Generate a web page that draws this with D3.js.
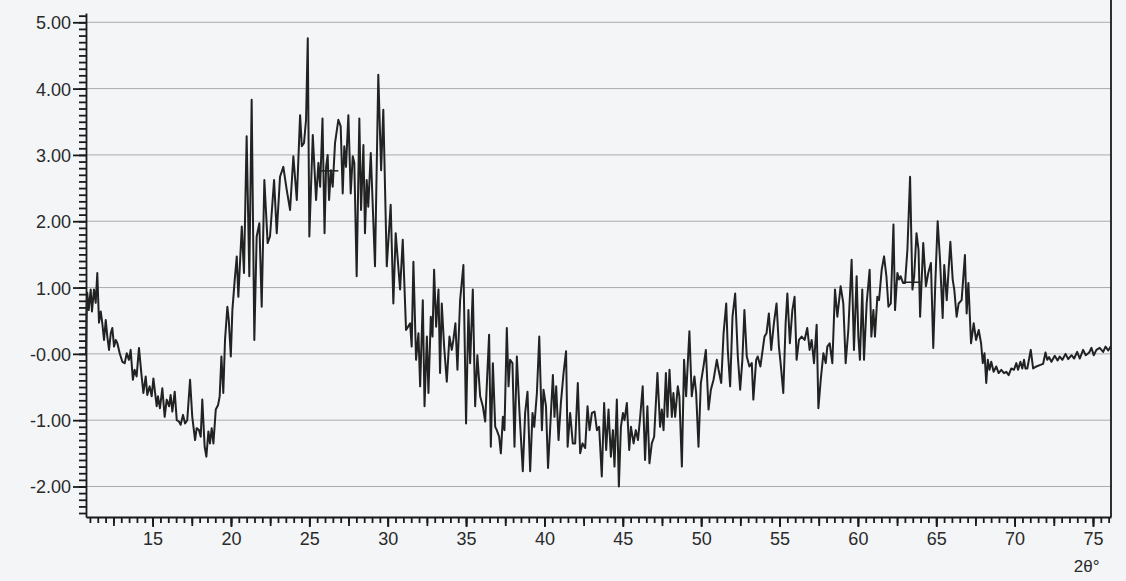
<!DOCTYPE html>
<html lang="en">
<head>
    <meta charset="UTF-8">
    <title>XRD scan</title>
    <script src="https://d3js.org/d3.v7.min.js"></script>
    <style>
        body { margin: 0; background: #f3f5f7; }
        svg { display: block; }
        .grid line { stroke: #a9abad; stroke-width: 1px; }
        .axis path, .axis line { stroke: #1a1a1a; stroke-width: 1.8px; }
        .axis text { font: 18px "Liberation Sans", Arial, sans-serif; fill: #2a2a2a; }
        .scan { fill: none; stroke: #222; stroke-width: 2px; stroke-linejoin: round; }
        .mark { stroke: #222; stroke-width: 1.5px; }
    </style>
</head>
<body>
    <svg width="1126" height="581"></svg>

    <script>
        // Data (2theta in degrees, intensity)
        const twoTheta = [
            10.75, 10.80, 10.83, 10.92, 11.05, 11.13, 11.26, 11.37, 11.47, 11.58,
            11.69, 11.79, 11.90, 12.01, 12.11, 12.22, 12.33, 12.43, 12.54, 12.65,
            12.75, 12.90, 13.07, 13.22, 13.35, 13.49, 13.60, 13.74, 13.85, 13.98,
            14.13, 14.28, 14.41, 14.56, 14.66, 14.81, 14.94, 15.05, 15.26, 15.34,
            15.47, 15.62, 15.77, 15.90, 16.05, 16.15, 16.26, 16.41, 16.54, 16.68,
            16.79, 16.94, 17.07, 17.21, 17.39, 17.53, 17.71, 17.81, 17.96, 18.07,
            18.17, 18.32, 18.43, 18.56, 18.66, 18.77, 18.88, 19.03, 19.18, 19.28,
            19.39, 19.51, 19.62, 19.77, 19.86, 19.99, 20.09, 20.24, 20.37, 20.47,
            20.69, 20.83, 21.00, 21.17, 21.32, 21.49, 21.64, 21.81, 21.96, 22.13,
            22.34, 22.49, 22.75, 22.92, 23.13, 23.34, 23.56, 23.77, 23.98, 24.20,
            24.41, 24.52, 24.66, 24.79, 24.90, 25.00, 25.22, 25.43, 25.58, 25.69,
            25.84, 25.97, 26.07, 26.17, 26.26, 26.38, 26.49, 26.64, 26.85, 27.00,
            27.13, 27.23, 27.34, 27.49, 27.64, 27.77, 27.87, 28.02, 28.19, 28.30,
            28.45, 28.55, 28.66, 28.76, 28.92, 29.19, 29.40, 29.58, 29.72, 29.94,
            30.19, 30.36, 30.51, 30.79, 30.96, 31.17, 31.43, 31.53,
            31.64, 31.81, 31.96, 32.07, 32.24, 32.35, 32.50, 32.60, 32.75, 32.86,
            32.96, 33.09, 33.24, 33.34, 33.45, 33.60, 33.77, 33.94, 34.09, 34.19,
            34.32, 34.45, 34.62, 34.83, 35.00, 35.15, 35.26, 35.43, 35.58, 35.72,
            35.90, 36.07, 36.22, 36.32, 36.47, 36.58, 36.71, 36.86, 36.96, 37.11,
            37.22, 37.35, 37.45, 37.60, 37.71, 37.81, 37.96, 38.09, 38.24, 38.41,
            38.62, 38.77, 38.92, 39.09, 39.24, 39.35, 39.52, 39.67, 39.84, 39.94,
            40.10, 40.23, 40.36, 40.54, 40.64, 40.75, 40.90, 41.05, 41.22, 41.38,
            41.48, 41.64, 41.81, 41.96, 42.13, 42.28, 42.43, 42.60, 42.75, 42.88,
            43.03, 43.20, 43.35, 43.49, 43.66, 43.81, 43.94, 44.09, 44.24, 44.37,
            44.47, 44.62, 44.75, 44.88, 45.01, 45.11, 45.26, 45.41, 45.52, 45.69,
            45.83, 45.97, 46.11,
            46.27, 46.42, 46.57, 46.70, 46.85, 47.00, 47.21, 47.38, 47.49, 47.60,
            47.75, 47.85, 47.98, 48.13, 48.23, 48.34, 48.51, 48.61, 48.77, 48.91,
            49.04, 49.25, 49.40, 49.57, 49.68, 49.83, 49.98, 50.15, 50.30, 50.47,
            50.62, 50.79, 51.00, 51.11, 51.28, 51.43, 51.60, 51.70, 51.85, 52.00,
            52.17, 52.34, 52.49, 52.63, 52.76, 52.91, 53.08, 53.23, 53.33, 53.51,
            53.61, 53.78, 54.04, 54.17, 54.32, 54.47, 54.64, 54.81, 54.96, 55.07,
            55.24, 55.39, 55.50, 55.66, 55.82, 55.96, 56.09, 56.24, 56.41, 56.60,
            56.77, 56.92, 57.05, 57.20, 57.37, 57.48, 57.63, 57.80, 57.95, 58.05,
            58.20, 58.37, 58.54, 58.69, 58.90, 59.07, 59.22, 59.39, 59.60, 59.75,
            59.92, 60.03, 60.13, 60.28, 60.39, 60.56, 60.75, 60.86, 60.99, 61.09,
            61.24, 61.35, 61.52, 61.67, 61.82, 61.95, 62.10, 62.27, 62.37, 62.52,
            62.63, 62.73, 62.88, 63.01, 63.16, 63.33, 63.48, 63.59, 63.74, 63.87,
            63.97, 64.17, 64.34, 64.49, 64.66, 64.81, 64.94, 65.09, 65.24, 65.41,
            65.51, 65.67, 65.90, 66.05, 66.15, 66.30, 66.43, 66.62, 66.83, 66.94,
            67.05, 67.22, 67.39, 67.54, 67.71, 67.86,
            67.97, 68.08, 68.19, 68.29, 68.40, 68.51, 68.66, 68.83, 68.98, 69.15,
            69.32, 69.47, 69.62, 69.79, 69.96, 70.11, 70.22, 70.37, 70.49, 70.60,
            70.69, 70.81, 71.03, 71.18, 71.39, 71.60, 71.82, 71.97, 72.08, 72.20,
            72.35, 72.56, 72.74, 72.88, 73.05, 73.25, 73.42, 73.63, 73.80, 73.99,
            74.16, 74.37, 74.54, 74.76, 74.90, 75.05, 75.22, 75.43, 75.65, 75.80,
            75.97, 76.13
        ];
        const intensity = [
            -0.02, 0.80, 0.92, 0.66, 0.97, 0.64, 0.97, 0.77, 1.22, 0.47,
            0.64, 0.46, 0.21, 0.51, 0.26, 0.06, 0.31, 0.39, 0.11, 0.21,
            0.16, 0.01, -0.12, -0.14, 0.01, -0.09, 0.06, -0.39, -0.24, -0.34,
            0.09, -0.29, -0.59, -0.34, -0.62, -0.49, -0.64, -0.37, -0.79, -0.64,
            -0.82, -0.52, -0.95, -0.69, -0.79, -0.62, -0.87, -0.57, -1.00, -1.02,
            -1.07, -0.92, -1.05, -1.00, -0.39, -0.95, -1.30, -1.12, -1.15, -1.25,
            -0.69, -1.40, -1.55, -1.17, -1.35, -1.12, -1.35, -0.84, -0.77, -0.64,
            -0.04, -0.59, 0.21, 0.71, 0.51, -0.04, 0.66, 1.12, 1.47, 0.86,
            1.92, 1.22, 3.28, 1.17, 3.83, 0.21, 1.77, 1.97, 0.71, 2.62,
            1.67, 1.77, 2.62, 1.82, 2.67, 2.82, 2.47, 2.17, 2.98, 2.32,
            3.60, 3.13, 3.18, 3.53, 4.76, 1.77, 3.30, 2.32, 2.88, 2.52,
            3.55, 1.82, 2.82, 3.00, 2.32, 2.77, 2.52, 3.18, 3.53, 3.43,
            2.42, 3.13, 2.82, 3.60, 2.42, 2.98, 2.88, 1.17, 3.55, 2.17,
            3.15, 1.82, 2.62, 2.22, 3.03, 1.32, 4.21, 2.77, 3.68, 1.32,
            2.25, 0.76, 1.82, 0.97, 1.72, 0.36, 0.46, 0.11,
            1.39, -0.09, 0.31, -0.49, 0.81, -0.79, 0.26, -0.59, 0.56, 0.26,
            1.27, 0.41, 0.97, -0.29, 0.76, 0.11, -0.42, 0.26, 0.06, 0.21,
            0.46, -0.24, 0.81, 1.34, -1.05, 0.66, -0.14, 0.97, -0.79, -0.02,
            -0.64, -0.79, -1.02, -0.49, 0.29, -1.40, -0.14, -1.10, -1.15, -1.25,
            -1.50, -0.95, -1.15, 0.39, -0.49, -0.09, -0.14, -1.40, -0.04, -0.89,
            -1.77, -0.89, -0.57, -1.77, -0.89, -1.10, -0.59, 0.26, -1.15, -0.54,
            -0.79, -1.72, -1.15, -0.32, -0.95, -0.49, -1.30, -0.74, -0.29, 0.04,
            -1.40, -0.89, -1.35, -1.35, -0.44, -1.50, -1.35, -1.42, -0.79, -1.15,
            -0.89, -0.87, -1.15, -1.10, -1.85, -0.74, -1.45, -0.84, -1.55, -1.15,
            -1.70, -0.69, -2.00, -1.10, -0.89, -1.00, -0.74, -1.45, -1.10, -1.35,
            -1.15, -1.30, -0.95,
            -0.49, -1.60, -0.79, -1.65, -1.35, -1.25, -0.29, -1.10, -0.84, -1.15,
            -0.29, -0.95, -0.24, -0.95, -0.59, -0.95, -0.49, -0.64, -1.70, -0.09,
            -0.64, 0.34, -0.64, -0.34, -0.59, -1.40, -0.44, -0.19, 0.06, -0.84,
            -0.54, -0.39, -0.09, -0.24, -0.44, 0.31, 0.76, 0.06, -0.49, 0.56,
            0.91, -0.04, -0.54, -0.09, 0.66, -0.04, -0.19, -0.14, -0.69, -0.09,
            -0.04, -0.19, 0.26, 0.31, 0.61, 0.06, 0.46, 0.76, 0.11, -0.14,
            -0.59, 0.46, 0.91, 0.16, 0.66, 0.86, -0.09, 0.21, 0.26, 0.21,
            0.39, 0.06, 0.21, -0.14, 0.44, -0.82, -0.39, 0.01, -0.14, 0.11,
            0.16, -0.14, 0.97, 0.56, 1.02, 0.76, -0.14, 0.36, 1.42, 0.06,
            1.17, 0.26, -0.09, 0.97, -0.09, 0.76, 1.27, 0.26, 0.66, 0.26,
            0.86, 0.81, 1.27, 1.47, 1.17, 0.71, 0.76, 1.95, 0.66, 1.22,
            1.12, 1.17, 1.07, 1.07, 1.57, 2.67, 0.97, 1.17, 1.82, 1.57,
            0.56, 1.67, 1.02, 1.22, 1.37, 0.09, 1.07, 2.00, 1.42, 0.54,
            1.34, 0.81, 1.69, 1.12, 0.97, 0.56, 0.76, 0.81, 1.49, 0.61,
            1.07, 0.16, 0.46, 0.21, 0.36, 0.16,
            -0.14, 0.01, -0.44, -0.09, -0.24, -0.12, -0.27, -0.19, -0.29, -0.24,
            -0.29, -0.27, -0.32, -0.22, -0.24, -0.14, -0.24, -0.12, -0.22, -0.09,
            -0.22, -0.22, 0.06, -0.22, -0.19, -0.17, -0.15, 0.02, -0.09, -0.05,
            -0.12, -0.03, -0.10, -0.04, -0.09, 0.00, -0.08, -0.02, -0.07, 0.03,
            -0.07, 0.06, -0.02, 0.02, 0.09, -0.02, 0.06, 0.09, 0.03, 0.11,
            0.05, 0.11
        ];

        // short horizontal marks drawn on the trace: [from, to, level]
        const baselineMarks = [[25.70, 26.85, 2.76], [62.90, 64.00, 1.08]];

        const xTicks = [15, 20, 25, 30, 35, 40, 45, 50, 55, 60, 65, 70, 75];
        const yTicks = [-2, -1, 0, 1, 2, 3, 4, 5];
        const yTickLabels = ["-2.00", "-1.00", "-0.00", "1.00", "2.00", "3.00", "4.00", "5.00"];
        const xTitle = "2θ°";

        const svg = d3.select("svg");
        const plotLeft = 86, plotRight = 1111, plotTop = 13, plotBottom = 517;

        const x = d3.scaleLinear().domain([10.75, 76.15]).range([plotLeft, plotRight]);
        const y = d3.scaleLinear().domain([-2.46, 5.14]).range([plotBottom, plotTop]);

        // grid lines
        svg.append("g")
            .attr("class", "grid")
            .selectAll("line")
            .data(yTicks)
            .enter().append("line")
            .attr("x1", plotLeft)
            .attr("x2", plotRight)
            .attr("y1", d => y(d))
            .attr("y2", d => y(d));

        // minor ticks
        const yMinor = d3.range(-24, 52).map(d => d / 10);
        svg.append("g")
            .attr("class", "axis")
            .attr("transform", "translate(" + plotLeft + ",0)")
            .call(d3.axisLeft(y).tickValues(yMinor).tickSize(7).tickFormat(""))
            .call(g => g.select(".domain").remove());

        const xMinor = d3.range(22, 153).map(d => d / 2);
        svg.append("g")
            .attr("class", "axis")
            .attr("transform", "translate(0," + plotBottom + ")")
            .call(d3.axisBottom(x).tickValues(xMinor).tickSize(6).tickFormat(""))
            .call(g => g.select(".domain").remove());

        const xMid = d3.range(5, 31).map(d => d * 2.5);
        svg.append("g")
            .attr("class", "axis")
            .attr("transform", "translate(0," + plotBottom + ")")
            .call(d3.axisBottom(x).tickValues(xMid).tickSize(9).tickFormat(""))
            .call(g => g.select(".domain").remove());

        // main axes
        svg.append("g")
            .attr("class", "axis")
            .attr("transform", "translate(" + plotLeft + ",0)")
            .call(d3.axisLeft(y).tickValues(yTicks).tickSize(13).tickSizeOuter(0).tickPadding(2)
                .tickFormat((d, i) => yTickLabels[i]))
            .call(g => g.selectAll("text").attr("dy", "0.36em"));

        svg.append("g")
            .attr("class", "axis")
            .attr("transform", "translate(0," + plotBottom + ")")
            .call(d3.axisBottom(x).tickValues(xTicks).tickSize(10).tickSizeOuter(0).tickPadding(5));

        // right frame line
        svg.append("line")
            .attr("x1", plotRight).attr("x2", plotRight)
            .attr("y1", 0).attr("y2", plotBottom)
            .style("stroke", "#1a1a1a")
            .style("stroke-width", "1.8px");

        // x title
        svg.append("text")
            .attr("x", x(74.6))
            .attr("y", 572)
            .attr("text-anchor", "middle")
            .style("font", "17px 'Liberation Sans', Arial, sans-serif")
            .style("fill", "#2a2a2a")
            .text(xTitle);

        // the scan
        const points = twoTheta.map((t, i) => [t, intensity[i]]);
        const line = d3.line()
            .x(d => x(d[0]))
            .y(d => y(d[1]));

        svg.append("path")
            .datum(points)
            .attr("class", "scan")
            .attr("d", line);

        svg.selectAll(".mark")
            .data(baselineMarks)
            .enter().append("line")
            .attr("class", "mark")
            .attr("x1", d => x(d[0]))
            .attr("x2", d => x(d[1]))
            .attr("y1", d => y(d[2]))
            .attr("y2", d => y(d[2]));
    </script>
</body>
</html>
